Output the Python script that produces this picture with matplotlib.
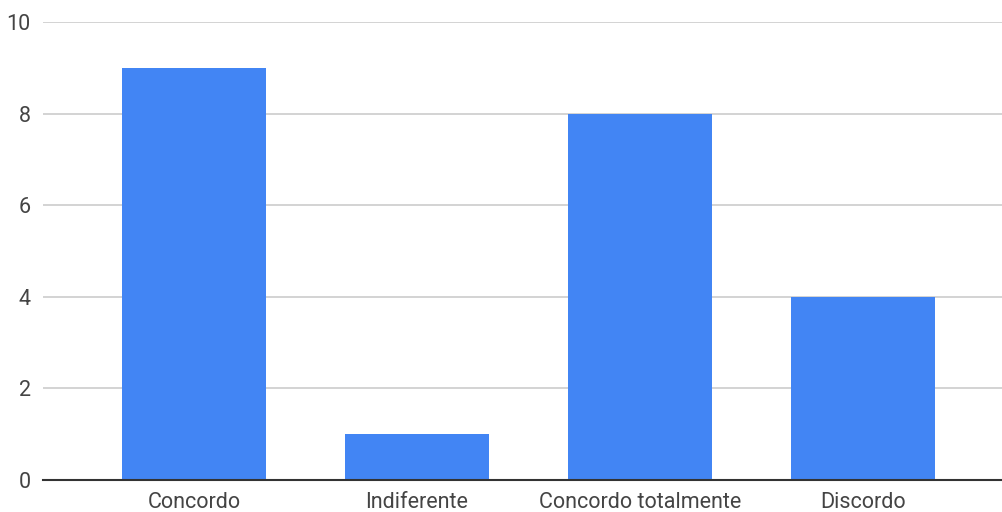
import numpy as np
import matplotlib.pyplot as plt

categorias = ["Concordo", "Indiferente", "Concordo totalmente", "Discordo"]
respostas = [9, 1, 8, 4]
yticks = [0, 2, 4, 6, 8, 10]

plt.rcParams['font.family'] = ['Roboto', 'DejaVu Sans']

fig = plt.figure(figsize=(10.02, 5.12), dpi=100)
ax = fig.add_axes([0.043, 0.0625, 0.957, 0.8945])

x = np.arange(len(categorias))
ax.bar(x, respostas, width=0.646, color="#4285f4", zorder=3)

ax.set_ylim(0, 10)
ax.set_xlim(-0.677, 3.623)
ax.set_yticks(yticks)
ax.set_xticks(x)
ax.set_xticklabels(categorias)
ax.yaxis.grid(True, color="#cccccc", linewidth=1.2, zorder=0)
ax.tick_params(axis='both', length=0, labelsize=15.5, colors="#444444")
ax.tick_params(axis='x', pad=9)
ax.tick_params(axis='y', pad=9)

for s in ["top", "right", "left"]:
    ax.spines[s].set_visible(False)
ax.spines["bottom"].set_color("#333333")
ax.spines["bottom"].set_linewidth(1.5)
ax.spines["bottom"].set_zorder(4)

fig.savefig("out.png", dpi=100)
